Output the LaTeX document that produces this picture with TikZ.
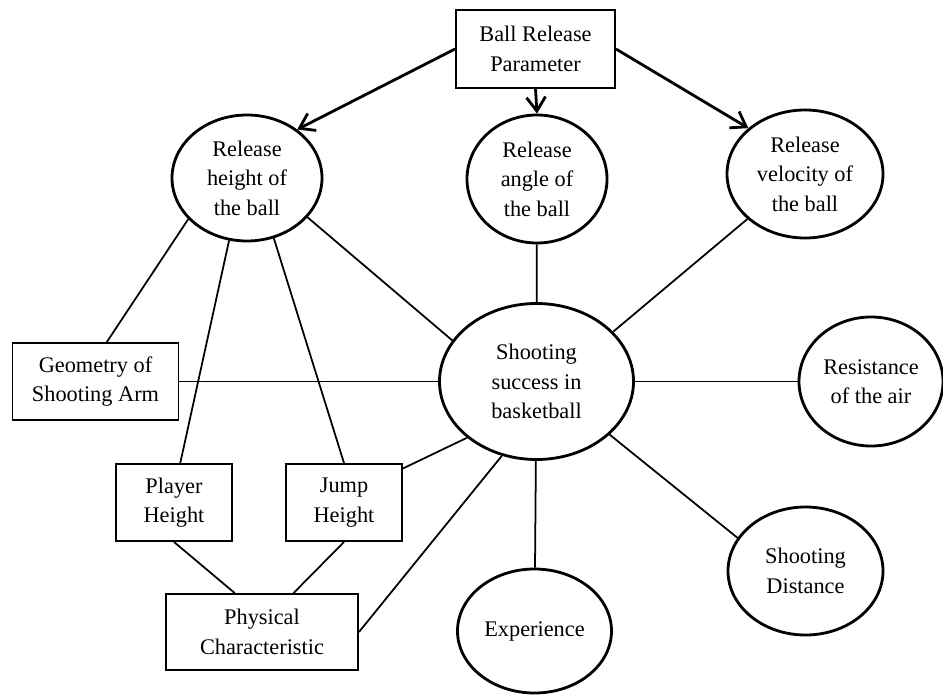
\documentclass[tikz,border=0pt]{standalone}
\usepackage{fontspec}
\setmainfont{Liberation Serif}
\usepackage{tikz}
\usetikzlibrary{arrows.meta,shapes.geometric}

\begin{document}
\begin{tikzpicture}[
    font=\fontsize{12.7}{16.8}\selectfont,
    oval/.style={ellipse, draw, line width=1.6pt, inner sep=0pt, align=center},
    box/.style={rectangle, draw, line width=1.1pt, inner sep=0pt, align=center},
    link/.style={line width=1pt},
    arrowline/.style={line width=1.6pt, -{Straight Barb[length=2.8mm,width=3.8mm]}}
]
\useasboundingbox (0,0) rectangle (18.86,13.88);

% Top parameter box
\node[box, minimum width=3.18cm, minimum height=1.56cm] (brp) at (10.71,12.90) {Ball Release\\Parameter};

% Release parameters
\node[oval, minimum width=3.0cm, minimum height=2.52cm] (rh) at (4.94,10.32) {Release\\height of\\the ball};
\node[oval, minimum width=2.8cm, minimum height=2.56cm] (ra) at (10.74,10.30) {Release\\angle of\\the ball};
\node[oval, minimum width=3.12cm, minimum height=2.56cm] (rv) at (16.10,10.40) {Release\\velocity of\\the ball};

% Centre
\node[oval, minimum width=3.88cm, minimum height=3.12cm] (succ) at (10.73,6.25) {Shooting\\success in\\basketball};

% Right and bottom factors
\node[oval, minimum width=2.88cm, minimum height=2.58cm] (res) at (17.42,6.25) {Resistance\\of the air};
\node[oval, minimum width=3.10cm, minimum height=2.56cm] (dist) at (16.11,2.46) {Shooting\\Distance};
\node[oval, minimum width=3.08cm, minimum height=2.48cm] (exp) at (10.69,1.26) {Experience};

% Left side boxes
\node[box, minimum width=3.32cm, minimum height=1.54cm] (geo) at (1.91,6.25) {Geometry of\\Shooting Arm};
\node[box, minimum width=2.32cm, minimum height=1.54cm] (player) at (3.48,3.83) {Player\\Height};
\node[box, minimum width=2.32cm, minimum height=1.54cm] (jump) at (6.88,3.83) {Jump\\Height};
\node[box, minimum width=3.84cm, minimum height=1.52cm] (phys) at (5.24,1.24) {Physical\\Characteristic};

% Arrows from the parameter box
\draw[arrowline] (brp.west) -- (rh.44);
\draw[arrowline] (brp.south) -- (ra.north);
\draw[arrowline] (brp.east) -- (rv.141.5);

% Release height links
\draw[link] (rh.215) -- (geo.74);
\draw[link] (rh.254) -- (player.81);
\draw[link] (rh.294) -- (jump.north);
\draw[link] (rh.327) -- (succ.154.5);

% Physical characteristic links
\draw[link] (player.south) -- (phys.125);
\draw[link] (jump.south) -- (phys.51);
\draw[link] (jump.30) -- (succ.219.5);
\draw[link] (phys.east) -- (succ.245.5);

% Links to the centre
\draw[link] (geo) -- (succ);
\draw[link] (ra) -- (succ);
\draw[link] (rv.218) -- (succ.33.4);
\draw[link] (succ) -- (res);
\draw[link] (succ.324.6) -- (dist.154.5);
\draw[link] (succ) -- (exp);
\end{tikzpicture}
\end{document}
